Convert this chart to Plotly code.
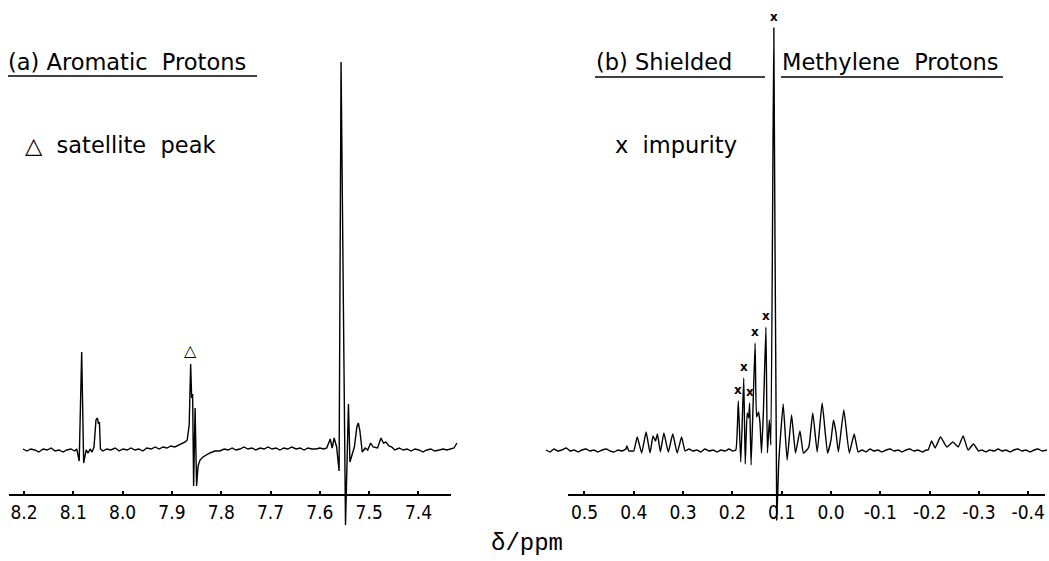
import plotly.graph_objects as go

# ---------------- data ----------------
# (a) aromatic region: chemical shift (ppm) and intensity (arbitrary units, baseline = 0)
ppm_a = [8.202, 8.194, 8.186, 8.178, 8.170, 8.161, 8.153, 8.145, 8.137, 8.129, 8.121, 8.113, 8.105, 8.097, 8.093,
         8.088, 8.083, 8.079, 8.074, 8.070, 8.066, 8.062, 8.058, 8.054, 8.051, 8.049, 8.047, 8.045, 8.040, 8.032,
         8.024, 8.015, 8.007, 7.999, 7.991, 7.983, 7.975, 7.967, 7.959, 7.951, 7.942, 7.934, 7.926, 7.918, 7.910,
         7.902, 7.894, 7.886, 7.879, 7.873, 7.869, 7.865, 7.862, 7.860, 7.858, 7.856, 7.853, 7.850, 7.847, 7.843,
         7.837, 7.831, 7.823, 7.813, 7.803, 7.794, 7.786, 7.778, 7.770, 7.762, 7.754, 7.746, 7.738, 7.730, 7.721,
         7.713, 7.705, 7.697, 7.689, 7.681, 7.673, 7.665, 7.657, 7.648, 7.640, 7.632, 7.624, 7.616, 7.608, 7.600,
         7.592, 7.586, 7.579, 7.575, 7.571, 7.566, 7.561, 7.557, 7.548, 7.542, 7.539, 7.533, 7.530, 7.525, 7.522,
         7.520, 7.519, 7.514, 7.508, 7.503, 7.497, 7.492, 7.483, 7.476, 7.471, 7.466, 7.460, 7.454, 7.448, 7.439,
         7.431, 7.423, 7.415, 7.407, 7.399, 7.391, 7.383, 7.375, 7.367, 7.358, 7.350, 7.342, 7.334, 7.328, 7.322]
int_a = [1, -1, 1, 0, -2, 1, 0, 2, -1, 0, -2, 0, 1, -1, 1,
         -11, 98, -13, 0, -3, 1, -2, 3, 30, 32, 26, 28, 1, -1, 1,
         0, 2, -1, 1, 0, 2, 0, 1, -1, 2, 1, 3, 1, 3, 2,
         4, 3, 5, 6, 8, 10, 25, 86, 52, 56, -36, 42, -36, -16, -10,
         -7, -5, -3, -1, -1, 1, 0, 2, 0, 1, 3, 1, 2, 0, 2,
         1, 3, 1, 2, 0, 2, 1, 3, 1, 2, 0, 2, 1, 1, 2,
         1, 2, 11, 2, 12, 3, -21, 388, -75, 46, -12, -2, 3, 23, 27,
         22, 20, -2, 2, 0, 7, 3, 2, 12, 7, 8, 4, 3, 0, 2,
         0, 1, -1, 1, 0, -2, 0, 1, -1, 0, 1, 0, 1, 2, 7]

# (b) shielded methylene region
ppm_b = [0.578, 0.570, 0.562, 0.554, 0.546, 0.537, 0.529, 0.521, 0.513, 0.505, 0.497, 0.489, 0.481, 0.473, 0.464,
         0.456, 0.448, 0.440, 0.432, 0.424, 0.416, 0.414, 0.410, 0.404, 0.400, 0.393, 0.384, 0.375, 0.367, 0.361,
         0.356, 0.352, 0.346, 0.339, 0.330, 0.321, 0.312, 0.303, 0.296, 0.288, 0.280, 0.272, 0.264, 0.256, 0.247,
         0.239, 0.231, 0.223, 0.215, 0.207, 0.199, 0.193, 0.188, 0.183, 0.177, 0.174, 0.170, 0.167, 0.165, 0.162,
         0.154, 0.151, 0.147, 0.144, 0.141, 0.137, 0.132, 0.129, 0.125, 0.122, 0.116, 0.110, 0.106, 0.103, 0.097,
         0.089, 0.080, 0.072, 0.063, 0.056, 0.051, 0.045, 0.037, 0.028, 0.018, 0.007, 0.000, -0.005, -0.010, -0.015,
         -0.026, -0.037, -0.047, -0.055, -0.063, -0.071, -0.079, -0.087, -0.095, -0.103, -0.112, -0.120, -0.128, -0.136, -0.144,
         -0.152, -0.160, -0.168, -0.176, -0.185, -0.193, -0.197, -0.204, -0.211, -0.222, -0.235, -0.247, -0.258, -0.268, -0.278,
         -0.289, -0.299, -0.306, -0.314, -0.322, -0.331, -0.339, -0.347, -0.355, -0.363, -0.371, -0.379, -0.387, -0.395, -0.404,
         -0.412, -0.420, -0.428, -0.438]
int_b = [0, -2, 1, -1, 0, 2, -1, 0, -2, 0, 1, -1, 0, -2, 0,
         1, -1, -2, 0, -1, 1, 4, -1, -1, -1, 13, -3, 18, -3, 14,
         9, 16, -2, 17, -2, 16, -3, 13, -1, 1, -1, 0, -2, 1, -1,
         0, -2, 0, -1, 1, -1, 0, 49, -12, 72, -14, 37, 32, 47, -15,
         107, 33, 38, 27, -3, 40, 123, -3, 30, 5, 422, -70, -12, 10, 46,
         -10, 35, -3, 19, -3, -1, 3, 37, -2, 47, -3, 10, 30, 18, -2,
         40, -3, 16, -2, 0, -2, 1, -1, 0, -2, 0, 1, -1, 0, -2,
         0, 1, -1, 0, -2, 0, 0, 9, 2, 13, 3, 8, 3, 14, 0,
         6, -1, 0, -2, 0, -1, 1, -1, 0, -2, 0, 1, -1, 0, -2,
         0, 1, -1, 0]

ticks_a = [8.2, 8.1, 8.0, 7.9, 7.8, 7.7, 7.6, 7.5, 7.4]
ticklabels_a = ["8.2", "8.1", "8.0", "7.9", "7.8", "7.7", "7.6", "7.5", "7.4"]
ticks_b = [0.5, 0.4, 0.3, 0.2, 0.1, 0.0, -0.1, -0.2, -0.3, -0.4]
ticklabels_b = ["0.5", "0.4", "0.3", "0.2", "0.1", "0.0", "-0.1", "-0.2", "-0.3", "-0.4"]

satellite_ppm = [7.862]
impurity_ppm = [0.188, 0.177, 0.165, 0.154, 0.132, 0.116]

# ---------------- figure ----------------
W, H = 1049, 561
YMIN, YMAX = -111, 450
AXIS_Y = -45
axis_pos = (AXIS_Y - YMIN) / (YMAX - YMIN)

def peak_height(xs, ys, p):
    return max(y for x, y in zip(xs, ys) if abs(x - p) <= 0.0025)

tickfont = dict(family="Liberation Sans Narrow, DejaVu Sans Condensed, Liberation Sans, Arial", size=19, color="black")
label_font = dict(family="DejaVu Sans, Liberation Sans", size=22.5, color="black")

fig = go.Figure()
fig.add_trace(go.Scatter(x=ppm_a, y=int_a, mode="lines", line=dict(color="black", width=1.4),
                         xaxis="x", yaxis="y", hoverinfo="skip"))
fig.add_trace(go.Scatter(x=ppm_b, y=int_b, mode="lines",
                         line=dict(color="black", width=1.4, shape="spline", smoothing=0.4),
                         xaxis="x2", yaxis="y2", hoverinfo="skip"))

common_x = dict(anchor="free", position=axis_pos, side="bottom", showline=False, showgrid=False, zeroline=False,
                automargin=False, ticks="inside", ticklen=4, tickwidth=1.5, tickcolor="black", tickfont=tickfont,
                ticklabelstandoff=4)
common_y = dict(domain=[0, 1], range=[YMIN, YMAX], visible=False, showgrid=False, zeroline=False, automargin=False)

fig.update_layout(
    template="none",
    width=W, height=H, margin=dict(l=0, r=0, t=0, b=0, autoexpand=False),
    paper_bgcolor="white", plot_bgcolor="white", showlegend=False,
    xaxis=dict(domain=[5 / W, 460 / W], range=[8.2385, 7.3158], tickvals=ticks_a, ticktext=ticklabels_a, **common_x),
    xaxis2=dict(domain=[540 / W, 1.0], range=[0.5902, -0.4421], tickvals=ticks_b, ticktext=ticklabels_b, **common_x),
    yaxis=dict(anchor="x", **common_y),
    yaxis2=dict(anchor="x2", **common_y),
)

# axis base lines
fig.add_shape(type="line", xref="x", yref="y", x0=8.2304, x1=7.334, y0=AXIS_Y, y1=AXIS_Y,
              line=dict(color="black", width=2))
fig.add_shape(type="line", xref="x2", yref="y2", x0=0.5334, x1=-0.434, y0=AXIS_Y, y1=AXIS_Y,
              line=dict(color="black", width=2))

def px(x):
    return x / W

def py(y):
    return 1 - y / H

# titles with underlines
fig.add_annotation(text="(a) Aromatic  Protons", x=px(6), y=py(62), xref="paper", yref="paper",
                   xanchor="left", yanchor="middle", showarrow=False, font=label_font)
fig.add_shape(type="line", xref="paper", yref="paper", x0=px(8), x1=px(257), y0=py(76), y1=py(76),
              line=dict(color="black", width=1.5))
fig.add_annotation(text="(b) Shielded", x=px(594), y=py(62), xref="paper", yref="paper",
                   xanchor="left", yanchor="middle", showarrow=False, font=label_font)
fig.add_shape(type="line", xref="paper", yref="paper", x0=px(595), x1=px(765), y0=py(77), y1=py(77),
              line=dict(color="black", width=1.5))
fig.add_annotation(text="Methylene  Protons", x=px(780), y=py(62), xref="paper", yref="paper",
                   xanchor="left", yanchor="middle", showarrow=False, font=label_font)
fig.add_shape(type="line", xref="paper", yref="paper", x0=px(781), x1=px(1003), y0=py(77), y1=py(77),
              line=dict(color="black", width=1.5))

# legends
fig.add_annotation(text="△  satellite  peak", x=px(23), y=py(145), xref="paper", yref="paper",
                   xanchor="left", yanchor="middle", showarrow=False, font=label_font)
fig.add_annotation(text="x  impurity", x=px(613), y=py(145), xref="paper", yref="paper",
                   xanchor="left", yanchor="middle", showarrow=False, font=label_font)

# axis title
fig.add_annotation(text="δ/ppm", x=px(527), y=py(543), xref="paper", yref="paper",
                   xanchor="center", yanchor="middle", showarrow=False,
                   font=dict(family="Liberation Mono, DejaVu Serif", size=24, color="black"))

# peak markers
for p in satellite_ppm:
    fig.add_annotation(text="△", x=p, y=peak_height(ppm_a, int_a, p), xref="x", yref="y",
                       yanchor="bottom", yshift=2, showarrow=False,
                       font=dict(family="DejaVu Sans", size=16, color="black"))
for p in impurity_ppm:
    fig.add_annotation(text="<b>x</b>", x=p, y=peak_height(ppm_b, int_b, p), xref="x2", yref="y2",
                       yanchor="bottom", yshift=2, showarrow=False,
                       font=dict(family="DejaVu Sans", size=12, color="black"))

fig.write_html("out.html", config={"displayModeBar": False},
               post_script="document.body.style.margin='0';document.body.style.padding='0';")
